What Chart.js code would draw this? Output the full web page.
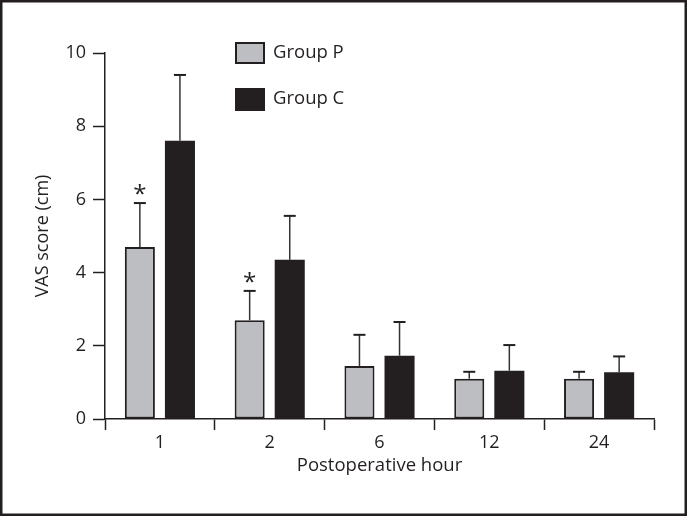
<!DOCTYPE html>
<html lang="en">
<head>
    <meta charset="UTF-8">
    <title>VAS score</title>
    <style>
        html, body { margin: 0; padding: 0; background: #fff; }
        .chart-box { width: 687px; height: 516px; }
    </style>
</head>
<body>
    <div class="chart-box">
        <canvas id="chart" width="687" height="516"></canvas>
    </div>

    <script src="https://cdn.jsdelivr.net/npm/chart.js"></script>
    <script>
        // data
        const hours = ['1', '2', '6', '12', '24'];
        const groupP = [4.7, 2.7, 1.45, 1.1, 1.1];
        const groupC = [7.6, 4.35, 1.73, 1.32, 1.28];
        const errP = [1.2, 0.8, 0.85, 0.19, 0.19];
        const errC = [1.8, 1.2, 0.92, 0.7, 0.43];
        const starP = [true, true, false, false, false];
        const yTicks = [0, 2, 4, 6, 8, 10];

        const ink = '#231f20';
        const grey = '#bdbec2';
        const font = "'Open Sans', 'DejaVu Sans', sans-serif";

        // error bars, stars, legend and frame
        const extras = {
            id: 'extras',
            afterDatasetsDraw(chart) {
                const ctx = chart.ctx;
                const y = chart.scales.y;
                const errs = [errP, errC];
                const vals = [groupP, groupC];
                ctx.save();
                errs.forEach((err, d) => {
                    chart.getDatasetMeta(d).data.forEach((bar, i) => {
                        const top = y.getPixelForValue(vals[d][i] + err[i]);
                        ctx.strokeStyle = '#333';
                        ctx.lineWidth = 1.5;
                        ctx.beginPath();
                        ctx.moveTo(bar.x, bar.y);
                        ctx.lineTo(bar.x, top);
                        ctx.stroke();
                        ctx.strokeStyle = ink;
                        ctx.lineWidth = 2;
                        ctx.beginPath();
                        ctx.moveTo(bar.x - 6, top);
                        ctx.lineTo(bar.x + 6, top);
                        ctx.stroke();
                        if (d === 0 && starP[i]) {
                            ctx.fillStyle = ink;
                            ctx.font = '24px ' + font;
                            ctx.textAlign = 'center';
                            ctx.textBaseline = 'middle';
                            ctx.fillText('*', bar.x, top - 8);
                        }
                    });
                });
                ctx.restore();
            },
            afterDraw(chart) {
                const ctx = chart.ctx;
                ctx.save();
                // legend
                ctx.fillStyle = grey;
                ctx.fillRect(235, 42, 30, 22);
                ctx.strokeStyle = ink;
                ctx.lineWidth = 2;
                ctx.strokeRect(236, 43, 28, 20);
                ctx.fillStyle = ink;
                ctx.fillRect(235, 88, 30, 23);
                ctx.font = '18.5px ' + font;
                ctx.textAlign = 'left';
                ctx.textBaseline = 'middle';
                ctx.fillText('Group P', 273, 53);
                ctx.fillText('Group C', 273, 99);
                // frame
                ctx.lineWidth = 2.5;
                ctx.strokeRect(1.25, 1.25, chart.width - 2.5, chart.height - 2.5);
                ctx.restore();
            }
        };

        const ctx = document.getElementById('chart').getContext('2d');
        new Chart(ctx, {
            type: 'bar',
            data: {
                labels: hours,
                datasets: [
                    {
                        label: 'Group P',
                        data: groupP,
                        backgroundColor: grey,
                        borderColor: ink,
                        borderWidth: 2,
                        borderSkipped: false
                    },
                    {
                        label: 'Group C',
                        data: groupC,
                        backgroundColor: ink,
                        borderColor: ink,
                        borderWidth: 0
                    }
                ]
            },
            options: {
                responsive: false,
                animation: false,
                devicePixelRatio: 1,
                barPercentage: 0.75,
                categoryPercentage: 0.73,
                layout: { padding: { left: 0, right: 33, top: 53, bottom: 0 } },
                plugins: {
                    legend: { display: false },
                    tooltip: { enabled: false }
                },
                scales: {
                    x: {
                        afterFit: (s) => { s.height = 97; },
                        grid: {
                            drawOnChartArea: false,
                            tickLength: 11,
                            tickWidth: 1.5,
                            tickColor: ink
                        },
                        border: { display: true, color: ink, width: 1.5 },
                        ticks: {
                            color: ink,
                            padding: 2,
                            font: { family: font, size: 18 }
                        },
                        title: {
                            display: true,
                            text: 'Postoperative hour',
                            color: ink,
                            font: { family: font, size: 18.5 },
                            padding: { top: 0, bottom: 39 }
                        }
                    },
                    y: {
                        min: 0,
                        max: 10,
                        afterFit: (s) => { s.width = 105; },
                        afterBuildTicks: (s) => { s.ticks = yTicks.map(v => ({ value: v })); },
                        grid: {
                            drawOnChartArea: false,
                            tickLength: 12,
                            tickWidth: 1.5,
                            tickColor: ink
                        },
                        border: { display: true, color: ink, width: 1.5 },
                        ticks: {
                            color: ink,
                            padding: 7,
                            font: { family: font, size: 18 }
                        },
                        title: {
                            display: true,
                            text: 'VAS score (cm)',
                            color: ink,
                            font: { family: font, size: 18 },
                            padding: { top: 32, bottom: 0 }
                        }
                    }
                }
            },
            plugins: [extras]
        });
    </script>
</body>
</html>
